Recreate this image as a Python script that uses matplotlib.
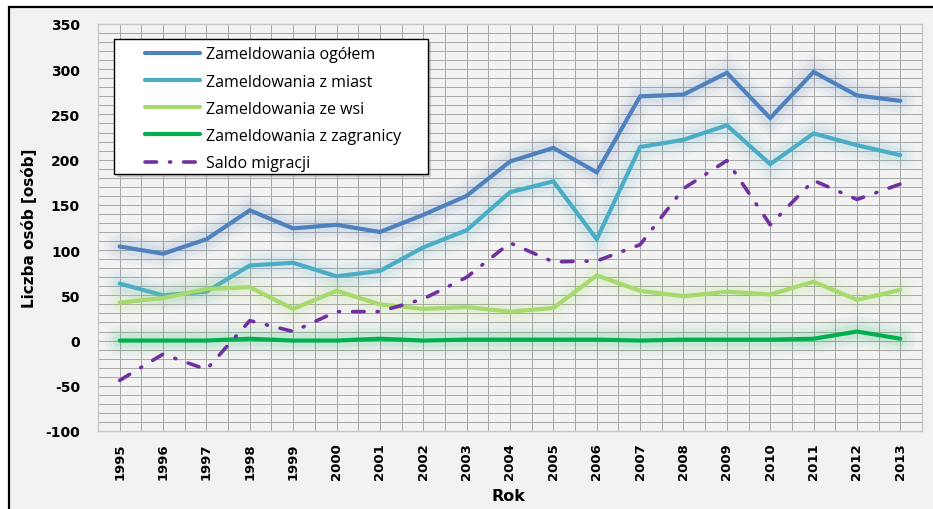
import matplotlib
matplotlib.use("Agg")
import matplotlib.pyplot as plt
import matplotlib.patheffects as pe
from matplotlib.lines import Line2D
from matplotlib.patches import Rectangle

years = [1995, 1996, 1997, 1998, 1999, 2000, 2001, 2002, 2003, 2004,
         2005, 2006, 2007, 2008, 2009, 2010, 2011, 2012, 2013]
ogolem = [104, 96, 112, 144, 124, 128, 120, 139, 160, 198,
          213, 186, 270, 272, 296, 246, 297, 271, 265]
z_miast = [63, 50, 54, 83, 86, 71, 77, 103, 122, 164,
           176, 112, 214, 222, 238, 195, 229, 216, 205]
ze_wsi = [42, 47, 57, 59, 35, 55, 40, 35, 37, 32,
          36, 72, 55, 49, 54, 51, 65, 45, 56]
z_zagranicy = [0, 0, 0, 2, 0, 0, 2, 0, 1, 1,
               1, 1, 0, 1, 1, 1, 2, 10, 2]
saldo = [-44, -15, -32, 22, 10, 32, 32, 46, 70, 108,
         87, 88, 106, 168, 199, 128, 177, 156, 173]

labels = ["Zameldowania ogółem", "Zameldowania z miast", "Zameldowania ze wsi",
          "Zameldowania z zagranicy", "Saldo migracji"]
colors = ["#4f81bd", "#4bacc6", "#a6d96e", "#00b050", "#7030a0"]

W, H = 933, 510
fig = plt.figure(figsize=(W / 100, H / 100), dpi=100)
fig.patch.set_facecolor("white")

# outer chart frame
frame = Rectangle((9 / W, -0.1), 1.2, 1.1 - 8 / H, transform=fig.transFigure,
                  facecolor="#f2f2f2", edgecolor="black", lw=1.6, zorder=-5)
fig.patches.append(frame)

x0, x1, yt, yb = 98, 922, 25, 432
ax = fig.add_axes([x0 / W, 1 - yb / H, (x1 - x0) / W, (yb - yt) / H])
ax.set_zorder(2)
ax.set_facecolor("#f2f2f2")
xs = list(range(len(years)))
ax.set_xlim(-0.5, len(years) - 0.5)
ax.set_ylim(-100, 350)

# grid
for v in range(-100, 351, 10):
    ax.axhline(v, color="#a9a9a9", lw=0.72, zorder=1)
for i in range(len(years) * 2 + 1):
    ax.axvline(-0.5 + i * 0.5, color="#a9a9a9", lw=0.72, zorder=1)
for s in ax.spines.values():
    s.set_color("#c8c8c8")
    s.set_linewidth(1.0)

def glow(c):
    return [pe.Stroke(linewidth=22, foreground=c, alpha=0.04),
            pe.Stroke(linewidth=16, foreground=c, alpha=0.05),
            pe.Stroke(linewidth=10, foreground=c, alpha=0.08),
            pe.Normal()]

series = [ogolem, z_miast, ze_wsi, z_zagranicy]
for data, c in zip(series, colors[:4]):
    ax.plot(xs, data, color=c, lw=3.0, solid_capstyle="round",
            solid_joinstyle="miter", zorder=3, path_effects=glow(c))
ax.plot(xs, saldo, color=colors[4], lw=2.6, linestyle=(0, (3.2, 3.6, 0.3, 3.6)),
        dash_capstyle="round", zorder=4)

ax.set_xticks(xs)
ax.set_xticklabels([str(y) for y in years], rotation=90, fontsize=9.5,
                   fontweight="bold")
ax.set_yticks(range(-100, 351, 50))
ax.set_yticklabels([str(v) for v in range(-100, 351, 50)], fontsize=10,
                   fontweight="bold")
ax.tick_params(axis="both", length=0)
ax.tick_params(axis="x", pad=8)
ax.tick_params(axis="y", pad=13)

fig.text(29 / W, 1 - 228 / H, "Liczba osób [osób]", rotation=90, ha="center",
         va="center", fontsize=11, fontweight="bold")
fig.text(508 / W, 1 - 497 / H, "Rok", ha="center", va="center",
         fontsize=11.5, fontweight="bold")

# legend frame with shadow
def axfrac(px, py):
    return ((px - x0) / (x1 - x0), (yb - py) / (yb - yt))

lx0, ly0 = axfrac(114, 175)
lx1, ly1 = axfrac(428, 40)
sx, sy = 3 / (x1 - x0), 3 / (yb - yt)
ax.add_patch(Rectangle((lx0 + sx, ly0 - sy), lx1 - lx0, ly1 - ly0,
                       transform=ax.transAxes, facecolor="#9a9a9a", alpha=0.5,
                       edgecolor="none", zorder=5))
ax.add_patch(Rectangle((lx0, ly0), lx1 - lx0, ly1 - ly0, transform=ax.transAxes,
                       facecolor="white", edgecolor="black", lw=1.0, zorder=6))

handles = []
for i, c in enumerate(colors):
    if i < 4:
        handles.append(Line2D([], [], color=c, lw=3.0, solid_capstyle="round"))
    else:
        handles.append(Line2D([], [], color=c, lw=2.6,
                              linestyle=(0, (3.2, 3.6, 0.3, 3.6)),
                              dash_capstyle="round"))
ax_x, ax_y = axfrac(145, 47.5)
leg = ax.legend(handles, labels, loc="upper left", bbox_to_anchor=(ax_x, ax_y),
                frameon=False, borderpad=0, borderaxespad=0,
                handlelength=3.44, handletextpad=0.37, labelspacing=0.7,
                prop={"family": "Open Sans", "size": 11.5})
leg.set_zorder(7)

fig.savefig("out.png", dpi=100, facecolor=fig.get_facecolor())
